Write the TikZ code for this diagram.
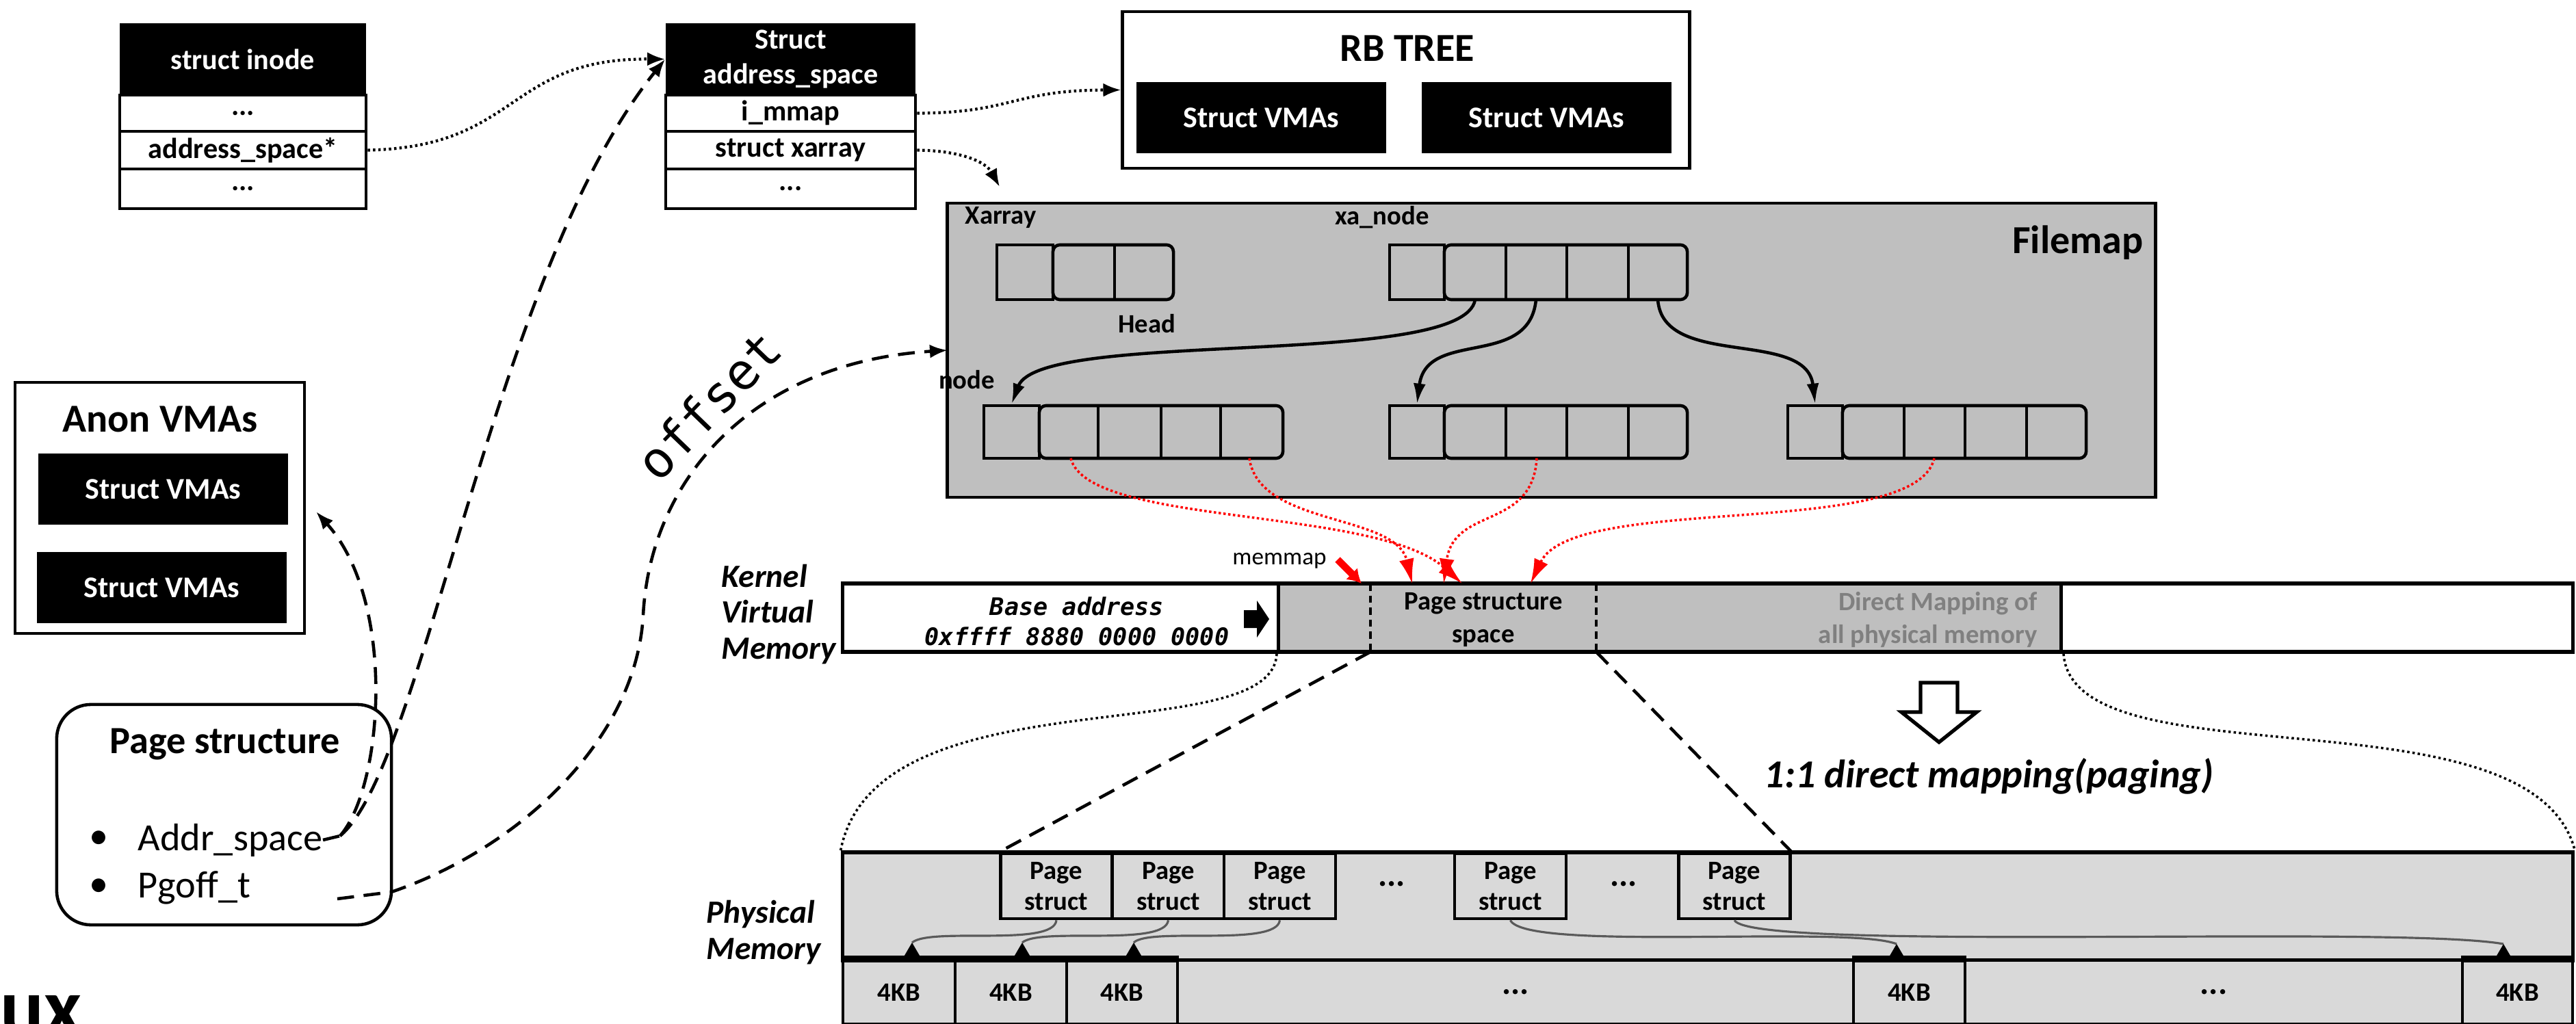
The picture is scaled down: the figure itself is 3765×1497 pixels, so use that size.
\documentclass[tikz,border=0pt]{standalone}
\usepackage{fontspec}
\setmainfont{Carlito}
\newfontfamily\monof{DejaVu Sans Mono}
\usetikzlibrary{arrows.meta}
\definecolor{fmgray}{HTML}{BFBFBF}
\definecolor{pmgray}{HTML}{D9D9D9}
\definecolor{txtgray}{HTML}{808080}
\definecolor{lnkgray}{HTML}{5A5A5A}
\begin{document}
\begin{tikzpicture}[x=0.01cm,y=-0.01cm,
  blk/.style={fill=black,text=white,font=\bfseries\fontsize{12}{14.5}\selectfont,align=center,inner sep=0pt},
  blkb/.style={fill=black,text=white,font=\bfseries\fontsize{12.5}{15}\selectfont,inner sep=0pt,minimum width=3.65cm,minimum height=1.04cm},
  cellrow/.style={draw,line width=1.3pt,fill=white,font=\bfseries\fontsize{12}{14}\selectfont,inner sep=0pt,minimum width=3.6cm},
  title/.style={font=\bfseries\fontsize{16.5}{20}\selectfont,inner sep=0pt},
  lab/.style={font=\bfseries\fontsize{11}{13}\selectfont,inner sep=0pt},
  sq/.style={draw,line width=1.3pt,inner sep=0pt},
  grp/.style={draw,line width=1.3pt,inner sep=0pt,rounded corners=0.1cm},
  cellline/.style={line width=1.1pt},
  dsh/.style={line width=1.3pt,dash pattern=on 7pt off 4pt},
  dot/.style={line width=1.2pt,dash pattern=on 1pt off 1.2pt},
  tip/.style={-{Latex[length=0.26cm,width=0.2cm]}},
  tree/.style={line width=1.3pt,-{Latex[length=0.3cm,width=0.18cm]}},
  redlink/.style={red,line width=1pt,dash pattern=on 1pt off 1pt,-{Latex[length=0.36cm,width=0.22cm]}},
  graylink/.style={lnkgray,line width=0.9pt},
  seg/.style={draw,line width=1.5pt,minimum height=1cm,inner sep=0pt},
  psbox/.style={draw,line width=1.3pt,fill=pmgray,minimum width=1.63cm,minimum height=0.95cm,inner sep=0pt,align=center,font=\bfseries\fontsize{11}{12.8}\selectfont},
  kb/.style={draw,line width=1.2pt,fill=pmgray,minimum height=0.93cm,inner sep=0pt,font=\bfseries\fontsize{11}{13}\selectfont},
  dots/.style={font=\bfseries\fontsize{14}{16}\selectfont,inner sep=0pt},
  side/.style={anchor=west,align=left,inner sep=0pt,font=\bfseries\itshape\fontsize{13.5}{15}\selectfont}
]
\path[use as bounding box] (0,0) rectangle (3765,1497);

% ---------- struct inode ----------
\node[blk,minimum width=3.6cm,minimum height=1.05cm] (inH) at (355,86.5) {struct inode};
\node[cellrow,minimum height=0.53cm] (in1) at (355,165.5) {...};
\node[cellrow,minimum height=0.55cm] (in2) at (355,219.5) {address\_space*};
\node[cellrow,minimum height=0.58cm] (in3) at (355,276) {...};

% ---------- struct address_space ----------
\node[blk,minimum width=3.65cm,minimum height=1.05cm] (asH) at (1155.5,86.5) {Struct\\address\_space};
\node[cellrow,minimum width=3.65cm,minimum height=0.53cm] (as1) at (1155.5,165.5) {i\_mmap};
\node[cellrow,minimum width=3.65cm,minimum height=0.55cm] (as2) at (1155.5,219.5) {struct xarray};
\node[cellrow,minimum width=3.65cm,minimum height=0.58cm] (as3) at (1155.5,276) {...};

% ---------- RB TREE ----------
\node[draw,line width=1.3pt,minimum width=8.28cm,minimum height=2.29cm] (rb) at (2055,131.5) {};
\node[title] (rbT) at (2057,71) {RB TREE};
\node[blkb] (rb1) at (1843.5,172) {Struct VMAs};
\node[blkb] (rb2) at (2260.5,172) {Struct VMAs};

% ---------- Filemap ----------
\node[draw,line width=1.3pt,fill=fmgray,minimum width=17.65cm,minimum height=4.30cm] (fm) at (2267.5,512) {};
\node[title] (fmT) at (3037,355) {Filemap};
\node[lab,anchor=west] (xaL) at (1410,318) {Xarray};
\node[lab] (xnL) at (2020,318) {xa\_node};
\node[lab] (hdL) at (1676,473) {Head};
\node[lab] (ndL) at (1413,555) {node};

% Xarray head
\node[sq,minimum width=0.82cm,minimum height=0.8cm] (xaS) at (1498,398) {};
\node[grp,minimum width=1.76cm,minimum height=0.8cm] (xaG) at (1627,398) {};
\draw[cellline] (1629,358) -- (1629,438);
% xa_node
\node[sq,minimum width=0.8cm,minimum height=0.8cm] (xnS) at (2071,398) {};
\node[grp,minimum width=3.55cm,minimum height=0.8cm] (xnG) at (2288.5,398) {};
\foreach \x in {2201,2290,2380} \draw[cellline] (\x,358) -- (\x,438);
% row 1
\node[sq,minimum width=0.81cm,minimum height=0.77cm] (r1S) at (1478.5,631.5) {};
\node[grp,minimum width=3.56cm,minimum height=0.77cm] (r1G) at (1697,631.5) {};
\foreach \x in {1605,1697,1784} \draw[cellline] (\x,593) -- (\x,670);
% row 2
\node[sq,minimum width=0.8cm,minimum height=0.77cm] (r2S) at (2071,631.5) {};
\node[grp,minimum width=3.55cm,minimum height=0.77cm] (r2G) at (2288.5,631.5) {};
\foreach \x in {2201,2290,2380} \draw[cellline] (\x,593) -- (\x,670);
% row 3
\node[sq,minimum width=0.8cm,minimum height=0.77cm] (r3S) at (2653,631.5) {};
\node[grp,minimum width=3.56cm,minimum height=0.77cm] (r3G) at (2871,631.5) {};
\foreach \x in {2783,2872,2962} \draw[cellline] (\x,593) -- (\x,670);

\coordinate (xn2) at (2156,438);
\coordinate (xn3) at (2245,438);
\coordinate (xn5) at (2423,438);
\draw[tree] (xn2) .. controls (2140,540) and (1520,480) .. (r1S.north);
\draw[tree] (xn3) .. controls (2235,540) and (2085,480) .. (r2S.north);
\draw[tree] (xn5) .. controls (2430,540) and (2640,480) .. (r3S.north);

% ---------- Kernel virtual memory ----------
\node[seg,fill=white,minimum width=6.37cm] (kvL) at (1550.5,903) {};
\node[seg,fill=fmgray,minimum width=11.44cm] (kvG) at (2441,903) {};
\node[seg,fill=white,minimum width=7.47cm] (kvR) at (3386.5,903) {};
\draw[line width=0.9pt,dash pattern=on 3pt off 2pt] (2003,853) -- (2003,953);
\draw[line width=0.9pt,dash pattern=on 3pt off 2pt] (2333,853) -- (2333,953);
\node[inner sep=0pt,font=\monof\bfseries\itshape\fontsize{10}{12}\selectfont] (ba1) at (1574,886) {Base address};
\node[inner sep=0pt,font=\monof\bfseries\itshape\fontsize{10}{12}\selectfont] (ba2) at (1574,930) {0xffff 8880 0000 0000};
\fill (1818,892) -- (1837,892) -- (1837,878) -- (1855,905) -- (1837,932) -- (1837,918) -- (1818,918) -- cycle;
\node[align=center,inner sep=0pt,font=\bfseries\fontsize{11}{13.4}\selectfont] (pss) at (2168,906) {Page structure\\space};
\node[anchor=east,align=right,inner sep=0pt,text=txtgray,font=\bfseries\fontsize{11}{13.4}\selectfont] (dm) at (2978,906) {Direct Mapping of\\all physical memory};
\node[side] (kvm) at (1054,898) {Kernel\\Virtual\\Memory};
\node[inner sep=0pt,font=\fontsize{10}{12}\selectfont] (mm) at (1870,820) {memmap};

% red links
\coordinate (r1c2) at (1565,670);
\coordinate (r1c5) at (1826,670);
\coordinate (r2c3) at (2246,670);
\coordinate (r3c3) at (2827,670);
\coordinate (p1) at (2064,853);
\coordinate (p2) at (2110,853);
\coordinate (p3) at (2137,853);
\coordinate (p4) at (2237,853);
\draw[redlink] (r1c2) .. controls (1590,770) and (2010,740) .. (p3);
\draw[redlink] (r1c5) .. controls (1840,770) and (2040,750) .. (p1);
\draw[redlink] (r2c3) .. controls (2240,775) and (2125,740) .. (p2);
\draw[redlink] (r3c3) .. controls (2800,790) and (2300,720) .. (p4);
\coordinate (mmS) at (1955,818);
\coordinate (mmT) at (1990,853);
\draw[red,line width=3pt,-{Latex[length=0.2cm,width=0.24cm]}] (mmS) -- (mmT);

% big down arrow
\draw[line width=1.5pt,fill=white] (2807,998) -- (2861,998) -- (2861,1041) -- (2889,1041) -- (2834,1085) -- (2779,1041) -- (2807,1041) -- cycle;
\node[inner sep=0pt,font=\bfseries\itshape\fontsize{16.5}{20}\selectfont] (dmap) at (2907,1135) {1:1 direct mapping(paging)};

% ---------- Physical memory ----------
\node[draw,line width=1.5pt,fill=pmgray,minimum width=25.28cm,minimum height=1.58cm] (pm) at (2496,1325) {};
\node[psbox] (ps1) at (1544,1295.5) {Page\\struct};
\node[psbox] (ps2) at (1707.5,1295.5) {Page\\struct};
\node[psbox] (ps3) at (1870.5,1295.5) {Page\\struct};
\node[psbox] (ps4) at (2207.5,1295.5) {Page\\struct};
\node[psbox] (ps5) at (2535,1295.5) {Page\\struct};
\node[dots] (pd1) at (2034,1292) {...};
\node[dots] (pd2) at (2373,1292) {...};
\node[kb,minimum width=1.64cm] (k1) at (1314,1450.5) {4KB};
\node[kb,minimum width=1.63cm] (k2) at (1477.5,1450.5) {4KB};
\node[kb,minimum width=1.62cm] (k3) at (1640,1450.5) {4KB};
\node[kb,minimum width=9.88cm,font=\bfseries\fontsize{14}{16}\selectfont] (kd1) at (2215,1450.5) {...};
\node[kb,minimum width=1.63cm] (k4) at (2790.5,1450.5) {4KB};
\node[kb,minimum width=7.27cm,font=\bfseries\fontsize{14}{16}\selectfont] (kd2) at (3235.5,1450.5) {...};
\node[kb,minimum width=1.61cm] (k5) at (3679.5,1450.5) {4KB};
\draw[line width=3pt] (k1.north west) -- (k3.north east);
\draw[line width=3pt] (k4.north west) -- (k4.north east);
\draw[line width=3pt] (k5.north west) -- (k5.north east);
\node[side] (pml) at (1032,1363) {Physical\\Memory};

\coordinate (ta1) at (1333,1378);
\coordinate (ta2) at (1494,1378);
\coordinate (ta3) at (1657,1378);
\coordinate (ta4) at (2772,1380);
\coordinate (ta5) at (3659,1380);
\draw[graylink] (ps1.south) .. controls (1540,1385) and (1360,1355) .. (ta1);
\draw[graylink] (ps2.south) .. controls (1703,1385) and (1520,1355) .. (ta2);
\draw[graylink] (ps3.south) .. controls (1866,1385) and (1680,1355) .. (ta3);
\draw[graylink] (ps4.south) .. controls (2230,1392) and (2700,1352) .. (ta4);
\draw[graylink] (ps5.south) .. controls (2560,1392) and (3500,1352) .. (ta5);
\foreach \t in {ta1,ta2,ta3,ta4,ta5} \fill (\t) -- ++(14,24) -- ++(-28,0) -- cycle;

% KVM -> physical memory
\coordinate (kvd1) at (2003,953);
\coordinate (kvd2) at (2333,953);
\draw[dot,line width=1pt] (kvG.south west) .. controls (1860,1100) and (1280,980) .. (pm.north west);
\draw[dsh] (kvd1) -- (ps1.north west);
\draw[dsh] (kvd2) -- (ps5.north east);
\draw[dot,line width=1pt] (kvG.south east) .. controls (3030,1150) and (3700,1000) .. (pm.north east);

% ---------- left side ----------
\node[draw,line width=1.3pt,minimum width=4.23cm,minimum height=3.67cm] (anon) at (233.5,742.5) {};
\node[title] (anonT) at (234,613) {Anon VMAs};
\node[blkb] (av1) at (238.5,715) {Struct VMAs};
\node[blkb] (av2) at (236.5,859) {Struct VMAs};

\node[draw,line width=1.3pt,rounded corners=0.5cm,minimum width=4.89cm,minimum height=3.22cm] (pgs) at (327.5,1191) {};
\node[inner sep=0pt,font=\bfseries\fontsize{16}{19}\selectfont] (pgsT) at (329,1088) {Page structure};
\node[inner sep=0pt,font=\fontsize{16}{19}\selectfont] (b1) at (145,1228) {•};
\node[inner sep=0pt,font=\fontsize{16}{19}\selectfont] (b2) at (145,1298) {•};
\node[anchor=west,inner sep=0pt,font=\fontsize{16}{19}\selectfont] (addr) at (201,1228) {Addr\_space};
\node[anchor=west,inner sep=0pt,font=\fontsize{16}{19}\selectfont] (pgoff) at (201,1298) {Pgoff\_t};

\coordinate (aspt) at (497,1222);
\coordinate (anonTip) at (462,748);
\coordinate (pgS) at (493,1314);
\coordinate (pgS2) at (572,1304);
\coordinate (fmTip) at (1385,512);
\coordinate (xaTip) at (1461,273);
\draw[dsh] (addr.east) -- (aspt);
\draw[dsh,tip] (aspt) .. controls (560,1150) and (580,880) .. (anonTip);
\draw[dsh,tip] (aspt) .. controls (620,1120) and (720,400) .. (asH.west);
\draw[dsh,tip] (pgS) -- (pgS2) .. controls (760,1240) and (930,1080) .. (940,900) .. controls (950,700) and (1100,530) .. (fmTip);
\node[inner sep=0pt,rotate=46,font=\monof\fontsize{21}{24}\selectfont] (off) at (1035,592) {offset};

\draw[dot,tip] (in2.east) .. controls (760,215) and (740,85) .. (asH.west);
\draw[dot,tip] (as1.east) .. controls (1480,165) and (1480,132) .. (rb.west);
\draw[dot,tip] (as2.east) .. controls (1400,220) and (1440,235) .. (xaTip);

\node[anchor=base west,inner sep=0pt,font=\bfseries\fontsize{34}{40}\selectfont] (ux) at (0,1513) {ux};
\end{tikzpicture}
\end{document}
